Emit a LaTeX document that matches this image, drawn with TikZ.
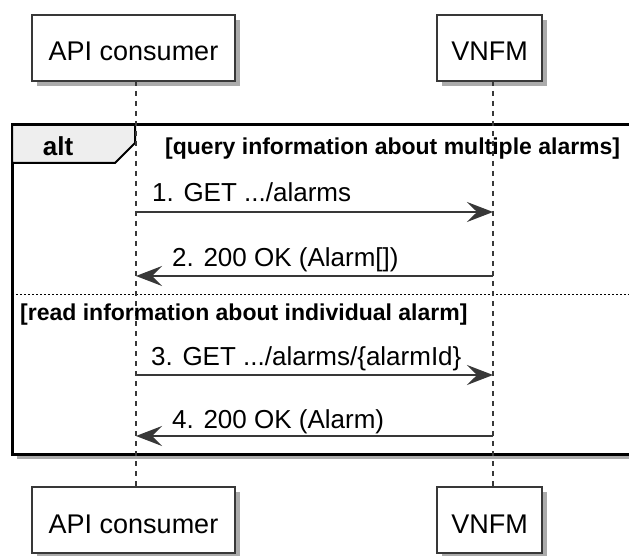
\documentclass[tikz,border=0pt]{standalone}
\usepackage{fontspec}
\setmainfont{Liberation Sans}
\usepackage{xcolor}
\usepackage{tikz}
\usetikzlibrary{calc}
\usetikzlibrary{arrows.meta}
\definecolor{umlgray}{HTML}{383838}
\definecolor{tabgray}{HTML}{EEEEEE}
\tikzset{>=latex}
\tikzset{
	actorbox/.style={draw=umlgray, line width=1.5pt, fill=white, minimum height=66pt,
		inner sep=0pt, text height=26pt, text depth=0pt, font=\fontsize{27}{30}\selectfont},
	boxshadow/.style={fill=black!60, opacity=0.55},
	lifeline/.style={draw=umlgray, line width=1.1pt, dash pattern=on 5pt off 5pt},
	msg/.style={draw=umlgray, line width=1.3pt, -{Stealth[length=26pt, width=20pt, inset=10pt]}},
	msglabel/.style={anchor=base west, inner sep=0pt, font=\fontsize{26}{30}\selectfont},
	guard/.style={anchor=base west, inner sep=0pt, font=\bfseries\fontsize{23}{26}\selectfont},
}

\begin{document}
\begin{tikzpicture}[x=1pt, y=-1pt]
	\useasboundingbox (0,0) rectangle (629,556);
	\clip (0,0) rectangle (629,556);

	%% Shadows of the participants
	\foreach \xa/\xb in {32/235, 437/542}{
		\fill[boxshadow] (\xa+5,20) rectangle (\xb+5,86);
		\fill[boxshadow] (\xa+5,492) rectangle (\xb+5,558);
	}

	%% Participants
	\node[actorbox, minimum width=203pt] (apitop) at (133.5,48) {API consumer};
	\node[actorbox, minimum width=105pt] (vnfmtop) at (489.5,48) {VNFM};
	\node[actorbox, minimum width=203pt] (apibot) at (133.5,520) {API consumer};
	\node[actorbox, minimum width=105pt] (vnfmbot) at (489.5,520) {VNFM};

	\coordinate[](fa) at (12,125);
	\coordinate[](fb) at (650,454);
	\coordinate[](sl) at (12,294);
	\coordinate[](sr) at (650,294);

	% Frame
	\fill[boxshadow] ($(fa)+(5,5)$) rectangle ($(fb)+(5,5)$);
	\filldraw[fill=white, draw=black, line width=3pt] (fa) rectangle (fb);
	\filldraw[fill=tabgray, draw=black, line width=2pt]
	(fa) -- (135,125) -- (135,143) -- (115,163) -- (12,163) -- cycle;
	\node[font=\bfseries\fontsize{26}{30}\selectfont, anchor=base] (alt) at (58,156) {alt};
	\draw[black, line width=1pt, dash pattern=on 2pt off 2pt] (sl) -- (sr);

	%% Lifelines
	\coordinate[](apia) at (136,81);
	\coordinate[](apib) at (136,487);
	\coordinate[](vnfma) at (493,81);
	\coordinate[](vnfmb) at (493,487);
	\draw[lifeline] (apia) -- (apib);
	\draw[lifeline] (vnfma) -- (vnfmb);

	%% Guards
	\node[guard] (guardone) at (165,155) {[query information about multiple alarms]};
	\node[guard] (guardtwo) at (20,320) {[read information about individual alarm]};

	%% Messages
	\coordinate[](ma) at (136,212);
	\coordinate[](mb) at (493,212);
	\draw[msg] (ma) -- (mb);
	\node[msglabel] (msgone) at (152,202) {1. GET .../alarms};
	%
	\coordinate[](mc) at (493,276);
	\coordinate[](md) at (136,276);
	\draw[msg] (mc) -- (md);
	\node[msglabel] (msgtwo) at (172,266) {2. 200 OK (Alarm[])};
	%
	\coordinate[](me) at (136,375);
	\coordinate[](mf) at (493,375);
	\draw[msg] (me) -- (mf);
	\node[msglabel] (msgthree) at (151,365) {3. GET .../alarms/\{alarmId\}};
	%
	\coordinate[](mg) at (493,436);
	\coordinate[](mh) at (136,436);
	\draw[msg] (mg) -- (mh);
	\node[msglabel] (msgfour) at (172,428) {4. 200 OK (Alarm)};

\end{tikzpicture}
\end{document}
